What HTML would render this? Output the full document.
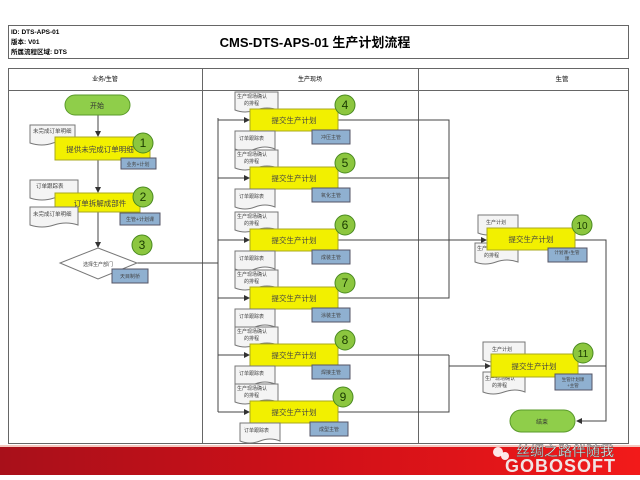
<!DOCTYPE html>
<html><head><meta charset="utf-8"><style>
html,body{margin:0;padding:0;background:#fff;width:640px;height:480px;overflow:hidden}
svg{display:block}
text{font-family:"Liberation Sans","Noto Sans CJK SC",sans-serif}
</style></head><body>
<svg width="640" height="480" viewBox="0 0 640 480" xmlns="http://www.w3.org/2000/svg">
<defs>
<linearGradient id="red" x1="0" x2="1" y1="0" y2="0"><stop offset="0" stop-color="#a8101a"/><stop offset="0.5" stop-color="#d01018"/><stop offset="1" stop-color="#f21a1a"/></linearGradient>
<marker id="ar" markerWidth="6" markerHeight="6" refX="5" refY="3" orient="auto"><path d="M0,0 L6,3 L0,6 z" fill="#333"/></marker>
</defs>
<rect x="8.5" y="25.5" width="620" height="33" fill="#fff" stroke="#666"/>
<text x="11" y="34" font-size="6.5" font-weight="bold">ID: DTS-APS-01</text>
<text x="11" y="44" font-size="6.5" font-weight="bold">版本: V01</text>
<text x="11" y="54" font-size="6.5" font-weight="bold">所属流程区域: DTS</text>
<text x="315" y="47" font-size="13" font-weight="bold" text-anchor="middle">CMS-DTS-APS-01 生产计划流程</text>
<rect x="8.5" y="68.5" width="620" height="375" fill="#fff" stroke="#666"/>
<line x1="8" y1="90.5" x2="628" y2="90.5" stroke="#666"/>
<line x1="202.5" y1="68" x2="202.5" y2="443" stroke="#666"/>
<line x1="418.5" y1="68" x2="418.5" y2="443" stroke="#666"/>
<text x="105" y="81" font-size="6" text-anchor="middle">业务/生管</text>
<text x="310" y="81" font-size="6" text-anchor="middle">生产现场</text>
<text x="562" y="81" font-size="6.5" text-anchor="middle">生管</text>

<g stroke="#444" stroke-width="1" fill="none">
<line x1="98" y1="115" x2="98" y2="136" marker-end="url(#ar)"/>
<line x1="98" y1="160" x2="98" y2="192" marker-end="url(#ar)"/>
<line x1="98" y1="212" x2="98" y2="247" marker-end="url(#ar)"/>
<polyline points="137,263 218,263"/>
<line x1="218" y1="118" x2="218" y2="412"/>
<line x1="218" y1="120" x2="249" y2="120" marker-end="url(#ar)"/>
<line x1="218" y1="178" x2="249" y2="178" marker-end="url(#ar)"/>
<line x1="218" y1="240" x2="249" y2="240" marker-end="url(#ar)"/>
<line x1="218" y1="298" x2="249" y2="298" marker-end="url(#ar)"/>
<line x1="218" y1="355" x2="249" y2="355" marker-end="url(#ar)"/>
<line x1="218" y1="412" x2="249" y2="412" marker-end="url(#ar)"/>
<polyline points="338,120 449,120 449,298 338,298"/>
<line x1="338" y1="178" x2="449" y2="178"/>
<line x1="338" y1="240" x2="486" y2="240" marker-end="url(#ar)"/>
<polyline points="338,355 449,355"/>
<polyline points="338,412 449,412 449,355"/>
<line x1="449" y1="366" x2="490" y2="366" marker-end="url(#ar)"/>
<polyline points="575,240 606,240 606,421 577,421" marker-end="url(#ar)"/>
<polyline points="578,366 606,366"/>
</g>

<rect x="65" y="95" width="65" height="20" rx="10" fill="#8fce4a" stroke="#5a9a2a"/>
<text x="97" y="108" font-size="7" text-anchor="middle" fill="#333">开始</text>
<rect x="510" y="410" width="65" height="22" rx="11" fill="#8fce4a" stroke="#5a9a2a"/>
<text x="542" y="424" font-size="6" text-anchor="middle" fill="#333">结束</text>

<g font-size="5.5" fill="#444">
<path d="M30,125 h45 v18 q-11,-4 -22,0 t-23,0 z" fill="#f4f4f4" stroke="#777"/>
<text x="33" y="133">未完成订单明细</text>
<rect x="55" y="137" width="95" height="23" fill="#f2f000" stroke="#a8a820"/>
<text x="100" y="152" font-size="7.5" text-anchor="middle">提供未完成订单明细</text>
<rect x="121" y="158" width="35" height="11" fill="#8fb0d0" stroke="#556"/>
<text x="138" y="166" font-size="5" text-anchor="middle">业务+计划</text>
<path d="M30,180 h48 v18 q-12,-4 -24,0 t-24,0 z" fill="#f4f4f4" stroke="#777"/>
<text x="36" y="188">订单跟踪表</text>
<rect x="55" y="193" width="85" height="19" fill="#f2f000" stroke="#a8a820"/>
<text x="100" y="206" font-size="7.5" text-anchor="middle">订单拆解成部件</text>
<path d="M30,207 h48 v18 q-12,-4 -24,0 t-24,0 z" fill="#f4f4f4" stroke="#777"/>
<text x="33" y="216">未完成订单明细</text>
<rect x="120" y="213" width="40" height="12" fill="#8fb0d0" stroke="#556"/>
<text x="140" y="221" font-size="5" text-anchor="middle">生管+计划课</text>
<polygon points="98,248 137,263 98,279 60,263" fill="#fff" stroke="#777"/>
<text x="98" y="266" text-anchor="middle" font-size="5">选择生产部门</text>
<rect x="112" y="269" width="36" height="14" fill="#8fb0d0" stroke="#556"/>
<text x="130" y="278" font-size="5" text-anchor="middle">天目制桥</text>
</g>
<g fill="#8cc63f" stroke="#4a8a20">
<circle cx="143" cy="143" r="10"/><circle cx="143" cy="197" r="10"/><circle cx="142" cy="245" r="10"/>
</g>
<g font-size="12" text-anchor="middle" fill="#1a3a00">
<text x="143" y="147">1</text><text x="143" y="201">2</text><text x="142" y="249">3</text>
</g>

<g font-size="5" fill="#444">
<g transform="translate(0,120)">
<path d="M235,-28 h43 v18 q-11,-4 -22,0 t-21,0 z" fill="#f4f4f4" stroke="#777"/>
<text x="237" y="-22">生产现场确认</text><text x="244" y="-15">的排程</text>
<rect x="250" y="-11" width="88" height="22" fill="#f2f000" stroke="#a8a820"/>
<text x="294" y="3" font-size="7.5" text-anchor="middle">提交生产计划</text>
<path d="M235,11 h40 v18 q-10,-4 -20,0 t-20,0 z" fill="#f4f4f4" stroke="#777"/>
<text x="239" y="20">订单跟踪表</text>
<rect x="312" y="10" width="38" height="14" fill="#8fb0d0" stroke="#556"/>
<text x="331" y="19" text-anchor="middle">冲压主管</text>
<circle cx="345" cy="-15" r="10" fill="#8cc63f" stroke="#4a8a20"/>
<text x="345" y="-11" font-size="12" text-anchor="middle" fill="#1a3a00">4</text>
</g>
<g transform="translate(0,178)">
<path d="M235,-28 h43 v18 q-11,-4 -22,0 t-21,0 z" fill="#f4f4f4" stroke="#777"/>
<text x="237" y="-22">生产现场确认</text><text x="244" y="-15">的排程</text>
<rect x="250" y="-11" width="88" height="22" fill="#f2f000" stroke="#a8a820"/>
<text x="294" y="3" font-size="7.5" text-anchor="middle">提交生产计划</text>
<path d="M235,11 h40 v18 q-10,-4 -20,0 t-20,0 z" fill="#f4f4f4" stroke="#777"/>
<text x="239" y="20">订单跟踪表</text>
<rect x="312" y="10" width="38" height="14" fill="#8fb0d0" stroke="#556"/>
<text x="331" y="19" text-anchor="middle">氧化主管</text>
<circle cx="345" cy="-15" r="10" fill="#8cc63f" stroke="#4a8a20"/>
<text x="345" y="-11" font-size="12" text-anchor="middle" fill="#1a3a00">5</text>
</g>
<g transform="translate(0,240)">
<path d="M235,-28 h43 v18 q-11,-4 -22,0 t-21,0 z" fill="#f4f4f4" stroke="#777"/>
<text x="237" y="-22">生产现场确认</text><text x="244" y="-15">的排程</text>
<rect x="250" y="-11" width="88" height="22" fill="#f2f000" stroke="#a8a820"/>
<text x="294" y="3" font-size="7.5" text-anchor="middle">提交生产计划</text>
<path d="M235,11 h40 v18 q-10,-4 -20,0 t-20,0 z" fill="#f4f4f4" stroke="#777"/>
<text x="239" y="20">订单跟踪表</text>
<rect x="312" y="10" width="38" height="14" fill="#8fb0d0" stroke="#556"/>
<text x="331" y="19" text-anchor="middle">成装主管</text>
<circle cx="345" cy="-15" r="10" fill="#8cc63f" stroke="#4a8a20"/>
<text x="345" y="-11" font-size="12" text-anchor="middle" fill="#1a3a00">6</text>
</g>
<g transform="translate(0,298)">
<path d="M235,-28 h43 v18 q-11,-4 -22,0 t-21,0 z" fill="#f4f4f4" stroke="#777"/>
<text x="237" y="-22">生产现场确认</text><text x="244" y="-15">的排程</text>
<rect x="250" y="-11" width="88" height="22" fill="#f2f000" stroke="#a8a820"/>
<text x="294" y="3" font-size="7.5" text-anchor="middle">提交生产计划</text>
<path d="M235,11 h40 v18 q-10,-4 -20,0 t-20,0 z" fill="#f4f4f4" stroke="#777"/>
<text x="239" y="20">订单跟踪表</text>
<rect x="312" y="10" width="38" height="14" fill="#8fb0d0" stroke="#556"/>
<text x="331" y="19" text-anchor="middle">涂装主管</text>
<circle cx="345" cy="-15" r="10" fill="#8cc63f" stroke="#4a8a20"/>
<text x="345" y="-11" font-size="12" text-anchor="middle" fill="#1a3a00">7</text>
</g>
<g transform="translate(0,355)">
<path d="M235,-28 h43 v18 q-11,-4 -22,0 t-21,0 z" fill="#f4f4f4" stroke="#777"/>
<text x="237" y="-22">生产现场确认</text><text x="244" y="-15">的排程</text>
<rect x="250" y="-11" width="88" height="22" fill="#f2f000" stroke="#a8a820"/>
<text x="294" y="3" font-size="7.5" text-anchor="middle">提交生产计划</text>
<path d="M235,11 h40 v18 q-10,-4 -20,0 t-20,0 z" fill="#f4f4f4" stroke="#777"/>
<text x="239" y="20">订单跟踪表</text>
<rect x="312" y="10" width="38" height="14" fill="#8fb0d0" stroke="#556"/>
<text x="331" y="19" text-anchor="middle">焊接主管</text>
<circle cx="345" cy="-15" r="10" fill="#8cc63f" stroke="#4a8a20"/>
<text x="345" y="-11" font-size="12" text-anchor="middle" fill="#1a3a00">8</text>
</g>
<g transform="translate(0,412)">
<path d="M235,-28 h43 v18 q-11,-4 -22,0 t-21,0 z" fill="#f4f4f4" stroke="#777"/>
<text x="237" y="-22">生产现场确认</text><text x="244" y="-15">的排程</text>
<rect x="250" y="-11" width="88" height="22" fill="#f2f000" stroke="#a8a820"/>
<text x="294" y="3" font-size="7.5" text-anchor="middle">提交生产计划</text>
<path d="M240,11 h40 v18 q-10,-4 -20,0 t-20,0 z" fill="#f4f4f4" stroke="#777"/>
<text x="244" y="20">订单跟踪表</text>
<rect x="310" y="10" width="38" height="14" fill="#8fb0d0" stroke="#556"/>
<text x="329" y="19" text-anchor="middle">成型主管</text>
<circle cx="343" cy="-15" r="10" fill="#8cc63f" stroke="#4a8a20"/>
<text x="343" y="-11" font-size="12" text-anchor="middle" fill="#1a3a00">9</text>
</g>

<path d="M478,215 h40 v18 q-10,-4 -20,0 t-20,0 z" fill="#f4f4f4" stroke="#777"/>
<text x="486" y="224">生产计划</text>
<path d="M475,243 h43 v19 q-11,-4 -22,0 t-21,0 z" fill="#f4f4f4" stroke="#777"/>
<text x="477" y="250">生产现场确认</text><text x="484" y="257">的排程</text>
<rect x="487" y="228" width="88" height="22" fill="#f2f000" stroke="#a8a820"/>
<text x="531" y="242" font-size="7.5" text-anchor="middle">提交生产计划</text>
<rect x="548" y="248" width="39" height="14" fill="#8fb0d0" stroke="#556"/>
<text x="567" y="254" text-anchor="middle" font-size="4.5">计划课+生管</text><text x="567" y="260" text-anchor="middle" font-size="4.5">课</text>
<circle cx="582" cy="225" r="10" fill="#8cc63f" stroke="#4a8a20"/>
<text x="582" y="229" font-size="10" text-anchor="middle" fill="#1a3a00">10</text>

<path d="M483,342 h42 v18 q-10,-4 -21,0 t-21,0 z" fill="#f4f4f4" stroke="#777"/>
<text x="492" y="351">生产计划</text>
<path d="M483,372 h42 v20 q-10,-4 -21,0 t-21,0 z" fill="#f4f4f4" stroke="#777"/>
<text x="485" y="380">生产现场确认</text><text x="492" y="387">的排程</text>
<rect x="491" y="354" width="87" height="23" fill="#f2f000" stroke="#a8a820"/>
<text x="534" y="369" font-size="7.5" text-anchor="middle">提交生产计划</text>
<rect x="555" y="374" width="37" height="16" fill="#8fb0d0" stroke="#556"/>
<text x="573" y="381" text-anchor="middle" font-size="4.5">生管计划课</text><text x="573" y="387" text-anchor="middle" font-size="4.5">+主管</text>
<circle cx="583" cy="353" r="10" fill="#8cc63f" stroke="#4a8a20"/>
<text x="583" y="357" font-size="10" text-anchor="middle" fill="#1a3a00">11</text>
</g>

<rect x="0" y="447" width="640" height="28" fill="url(#red)"/>
<rect x="0" y="445" width="640" height="2" fill="#f5c8c0"/>
<text x="616" y="472" font-size="18" text-anchor="end" fill="#f0e4e4" font-weight="bold" letter-spacing="1">GOBOSOFT</text>
<text x="614" y="456" font-size="14" text-anchor="end" fill="#fff" stroke="#555" stroke-width="0.4">丝绸之路伴随我</text>
<circle cx="498" cy="452" r="5" fill="#fff" opacity="0.9"/>
<circle cx="505" cy="456" r="4" fill="#fff" opacity="0.9"/>
</svg>
</body></html>
